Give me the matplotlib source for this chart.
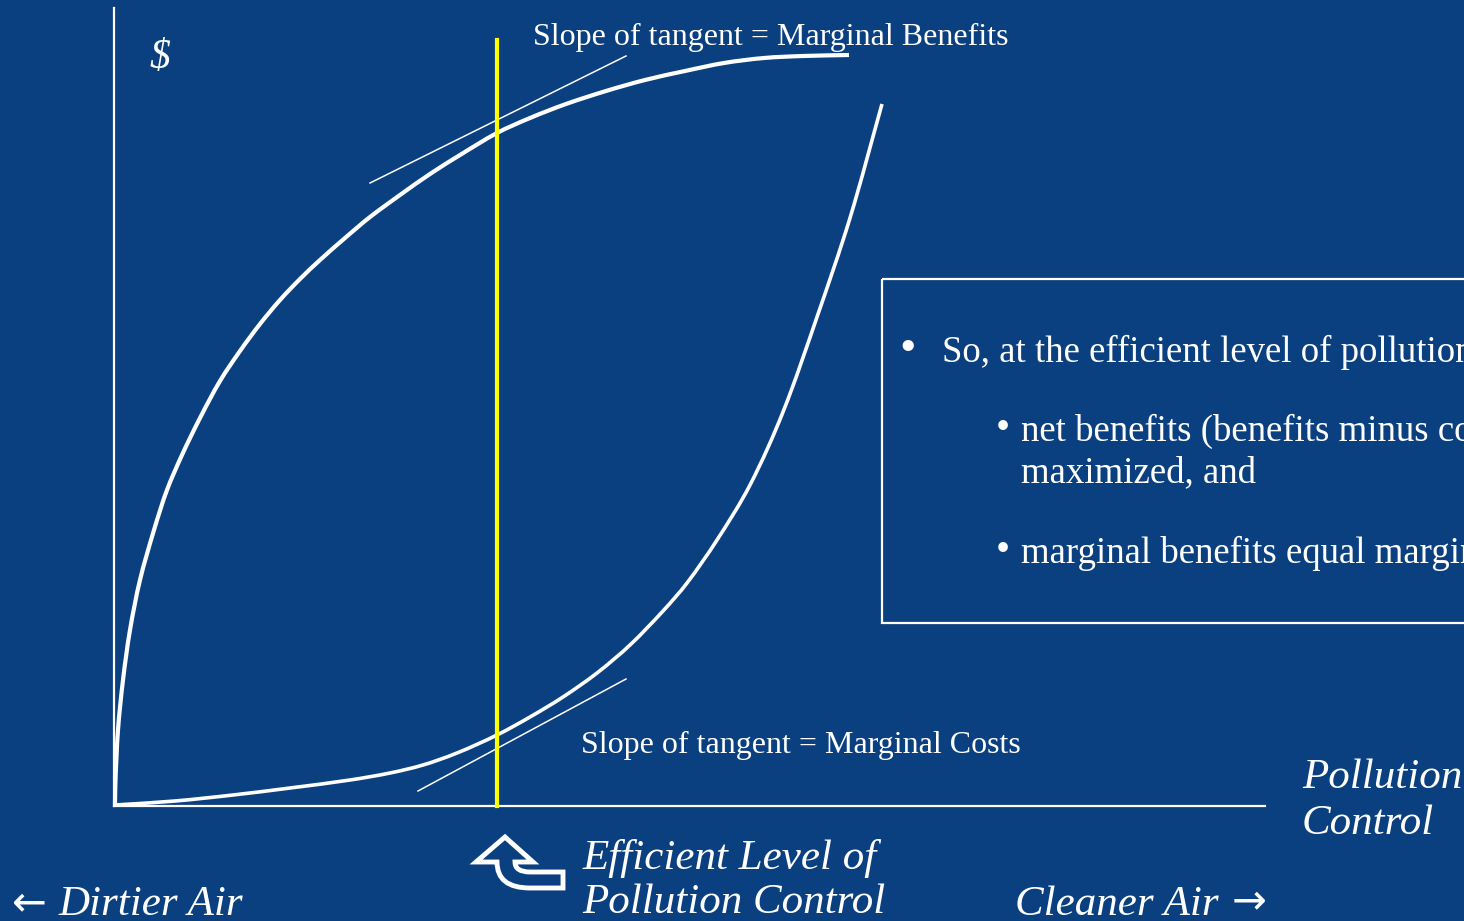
import matplotlib
matplotlib.use("Agg")
import math
import matplotlib.pyplot as plt
from matplotlib.path import Path
from matplotlib.patches import PathPatch, Rectangle

BG = "#0B4080"
WHITE = "white"
YELLOW = "#FFFF00"

# ---- data (pixel-like chart units) ----
benefit_x = [115, 115.5, 118, 123, 130, 140, 154, 167, 182, 200, 220, 240, 260,
             280, 300, 320, 345, 370, 400, 430, 460, 497, 530, 566, 606, 645, 685,
             724, 764, 803, 849]
benefit_y = [805, 780, 730, 680, 630, 580, 530, 490, 455, 418, 381, 351, 324,
             300, 279, 260, 238, 217, 195, 174, 155, 133, 118, 104, 91, 80, 71,
             63, 58, 56, 55]

cost_x = [115, 175, 233, 290, 350, 390, 423, 457, 497, 530, 563, 597, 630, 663,
          687, 717, 750, 783, 817, 850, 882]
cost_y = [805, 801, 795, 788, 780, 773, 765, 753, 735, 717, 697, 673, 645, 611,
          583, 540, 485, 412, 317, 218, 104]

mb_tangent_x = [370, 626]
mb_tangent_y = [183, 56]
mc_tangent_x = [418, 626]
mc_tangent_y = [791, 679]

efficient_x = 497
efficient_top = 40
origin = (114, 806)
x_axis_end = 1265
y_axis_top = 8

bullet_main = "So, at the efficient level of pollution control"
bullet_sub1 = ["net benefits (benefits minus costs) are", "maximized, and"]
bullet_sub2 = "marginal benefits equal marginal costs."


def smooth_path(xs, ys):
    """Cubic Bezier path through the given points (chord-length Catmull-Rom)."""
    pts = list(zip(xs, ys))
    n = len(pts)
    d = [max(math.dist(pts[i], pts[i + 1]), 1e-6) for i in range(n - 1)]

    def tangent(i):
        if i == 0:
            return ((pts[1][0] - pts[0][0]) / d[0], (pts[1][1] - pts[0][1]) / d[0])
        if i == n - 1:
            return ((pts[-1][0] - pts[-2][0]) / d[-1], (pts[-1][1] - pts[-2][1]) / d[-1])
        s = d[i - 1] + d[i]
        return ((pts[i + 1][0] - pts[i - 1][0]) / s, (pts[i + 1][1] - pts[i - 1][1]) / s)

    verts = [pts[0]]
    codes = [Path.MOVETO]
    for i in range(n - 1):
        m1, m2 = tangent(i), tangent(i + 1)
        p1, p2 = pts[i], pts[i + 1]
        c1 = (p1[0] + m1[0] * d[i] / 3, p1[1] + m1[1] * d[i] / 3)
        c2 = (p2[0] - m2[0] * d[i] / 3, p2[1] - m2[1] * d[i] / 3)
        verts += [c1, c2, p2]
        codes += [Path.CURVE4] * 3
    return Path(verts, codes)


fig = plt.figure(figsize=(14.64, 9.21), dpi=100)
fig.patch.set_facecolor(BG)
ax = fig.add_axes([0, 0, 1, 1])
ax.set_facecolor(BG)
ax.set_xlim(0, 1464)
ax.set_ylim(921, 0)
ax.axis("off")

serif = ["Liberation Serif", "DejaVu Serif"]

# axes
ax.plot([origin[0], origin[0]], [origin[1], y_axis_top], color=WHITE, lw=1.6)
ax.plot([origin[0], x_axis_end], [origin[1], origin[1]], color=WHITE, lw=1.6)

# curves
ax.add_patch(PathPatch(smooth_path(benefit_x, benefit_y), facecolor="none",
                       edgecolor=WHITE, lw=3.0, capstyle="butt"))
ax.add_patch(PathPatch(smooth_path(cost_x, cost_y), facecolor="none",
                       edgecolor=WHITE, lw=2.6, capstyle="butt"))
ax.plot(mb_tangent_x, mb_tangent_y, color=WHITE, lw=1.1)
ax.plot(mc_tangent_x, mc_tangent_y, color=WHITE, lw=1.1)

# efficient level
ax.plot([efficient_x, efficient_x], [origin[1], efficient_top], color=YELLOW, lw=3.0)

# labels
ax.text(160, 58, "$", color=WHITE, fontsize=30, family=serif, style="italic",
        ha="center", va="center")
ax.text(533, 37, "Slope of tangent = Marginal Benefits", color=WHITE, fontsize=23,
        family=serif, ha="left", va="center")
ax.text(581, 745, "Slope of tangent = Marginal Costs", color=WHITE, fontsize=23,
        family=serif, ha="left", va="center")

ital = dict(color=WHITE, fontsize=31, family=serif, style="italic",
            ha="left", va="center")
ax.text(1302, 778, "Pollution", **ital)
ax.text(1302, 824, "Control", **ital)
ax.text(582, 858, "Efficient Level of", **ital)
ax.text(582, 903, "Pollution Control", **ital)
ax.text(58, 905, "Dirtier Air", **ital)
ax.text(1015, 905, "Cleaner Air", **ital)
ax.text(12, 903, "\u2190", color=WHITE, fontsize=30, family=["DejaVu Sans"],
        ha="left", va="center")
ax.text(1232, 901, "\u2192", color=WHITE, fontsize=30, family=["DejaVu Sans"],
        ha="left", va="center")

# text box
ax.add_patch(Rectangle((882, 279), 700, 344, fill=False, edgecolor=WHITE, lw=1.6))
txt = dict(color=WHITE, fontsize=26.5, family=serif, ha="left", va="center")
ax.text(908, 350, "\u2022", color=WHITE, fontsize=34, family=serif, ha="center", va="center")
ax.text(942, 352, bullet_main, **txt)
ax.text(1003, 429, "\u2022", color=WHITE, fontsize=29, family=serif, ha="center", va="center")
ax.text(1021, 431, bullet_sub1[0], **txt)
ax.text(1021, 473, bullet_sub1[1], **txt)
ax.text(1003, 551, "\u2022", color=WHITE, fontsize=29, family=serif, ha="center", va="center")
ax.text(1021, 553, bullet_sub2, **txt)

# hooked arrow pointing to the efficient level
verts = [
    (505, 837), (533, 862), (515, 862),
    (515, 872), (530, 872),
    (563, 872), (563, 888), (530, 888),
    (497, 888), (497, 862),
    (476, 862), (505, 837),
]
codes = [
    Path.MOVETO, Path.LINETO, Path.LINETO,
    Path.CURVE3, Path.CURVE3,
    Path.LINETO, Path.LINETO, Path.LINETO,
    Path.CURVE3, Path.CURVE3,
    Path.LINETO, Path.CLOSEPOLY,
]
ax.add_patch(PathPatch(Path(verts, codes), facecolor=BG, edgecolor=WHITE, lw=3.5,
                       joinstyle="miter"))

fig.savefig("out.png", dpi=100, facecolor=BG)
